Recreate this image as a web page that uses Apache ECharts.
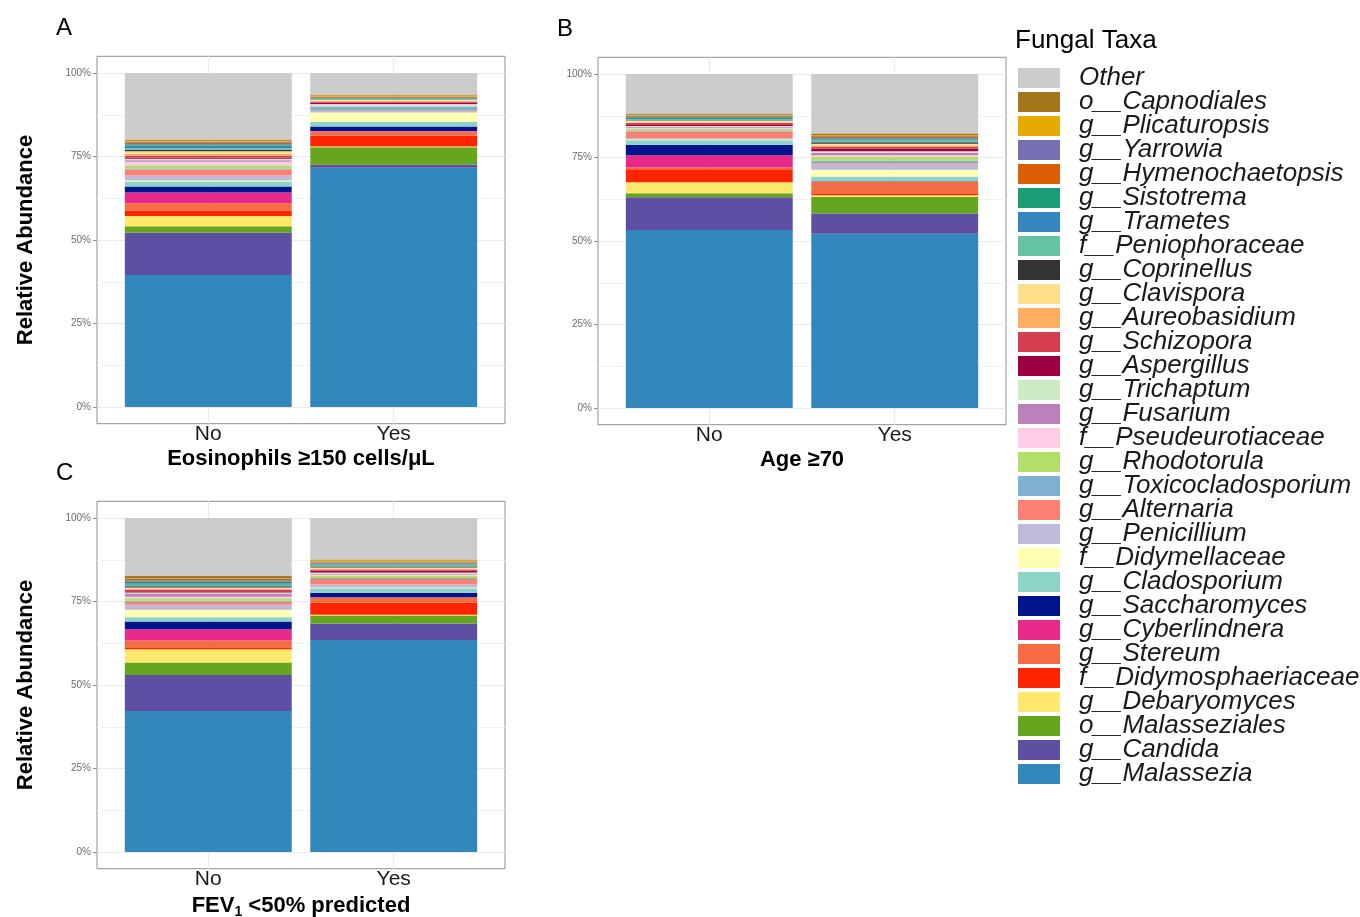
<!DOCTYPE html>
<html><head><meta charset="utf-8">
<script src="https://cdn.jsdelivr.net/npm/echarts@6/dist/echarts.min.js"></script>
<style>html,body{margin:0;padding:0;background:#fff}#c{width:1360px;height:917px}</style>
</head><body><div id="c"></div>
<script>
// stacking order: bottom -> top
const taxa = ['g__Malassezia','g__Candida','o__Malasseziales','g__Debaryomyces','f__Didymosphaeriaceae','g__Stereum','g__Cyberlindnera','g__Saccharomyces','g__Cladosporium','f__Didymellaceae','g__Penicillium','g__Alternaria','g__Toxicocladosporium','g__Rhodotorula','f__Pseudeurotiaceae','g__Fusarium','g__Trichaptum','g__Aspergillus','g__Schizopora','g__Aureobasidium','g__Clavispora','g__Coprinellus','f__Peniophoraceae','g__Trametes','g__Sistotrema','g__Hymenochaetopsis','g__Yarrowia','g__Plicaturopsis','o__Capnodiales','Other'];
const taxaColors = ['#3288BD','#5E4FA2','#66A61E','#FFE86B','#FF2400','#F46D43','#E7298A','#00148C','#8DD3C7','#FFFFB3','#BEBADA','#FB8072','#80B1D3','#B3DE69','#FCCDE5','#BC80BD','#CCEBC5','#9E0142','#D53E4F','#FDAE61','#FEE08B','#333333','#66C2A5','#3687BF','#1B9E77','#D95F02','#7570B3','#E6AB02','#A6761D','#CCCCCC'];
const groups = ['No','Yes'];
// relative abundance (%) per taxon, same order as taxa
const eosNo  = [39.5,12.7,1.9,3.1,1.6,2.2,3.2,1.8,1.5,0.3,1.5,1.8,0.3,1.0,1.0,0.5,0.4,0.4,0.6,0.5,0.8,0.4,0.4,0.9,0.4,0.4,0.3,0.3,0.4,19.9];
const eosYes = [71.6,0.9,5.3,0.2,3.2,1.3,0.1,1.4,1.4,2.8,0.3,0.2,1.3,0.2,0.2,0.2,0.1,0.4,0.4,0.2,0.2,0.1,0.2,0.2,0.2,0.2,0.2,0.3,0.3,6.4];
const ageNo  = [53.3,9.8,1.2,3.3,3.9,0.5,3.7,3.1,1.4,0.2,0.4,2.0,0.3,0.4,0.4,0.3,0.2,0.3,0.6,0.2,0.4,0.2,0.4,0.4,0.3,0.2,0.2,0.2,0.4,11.8];
const ageYes = [52.2,6.0,5.0,0.5,0.4,3.6,0.1,0.1,1.4,2.0,1.6,0.4,0.7,1.2,0.5,0.7,0.5,0.8,0.6,0.4,0.4,0.5,0.5,0.4,0.3,0.4,0.2,0.3,0.5,17.8];
const fevNo  = [42.2,10.8,3.7,4.0,0.4,2.2,3.4,2.3,1.3,2.2,1.5,0.9,0.3,0.8,0.4,1.0,0.3,0.4,0.5,0.3,0.3,0.4,0.4,0.5,0.4,0.3,0.5,0.3,0.6,17.4];
const fevYes = [63.5,4.9,2.4,0.2,3.6,1.6,0.1,1.3,1.4,0.2,1.0,1.5,0.3,0.8,0.3,0.3,0.3,0.5,0.4,0.3,0.3,0.3,0.3,0.3,0.3,0.3,0.2,0.4,0.3,12.4];
const yTickStep = 25;

const FONT = '"Liberation Sans", Arial, Helvetica, sans-serif';
const W = 408, H100 = 334, PAD = H100 * 0.05, UNIT = W / 2.2;
const panels = [
  {label:'A', left:97,  top:56.3,  xName:'Eosinophils ≥150 cells/μL', yName:'Relative Abundance', no:eosNo, yes:eosYes, gap:24},
  {label:'B', left:598, top:57.3,  xName:'Age ≥70', yName:'', no:ageNo, yes:ageYes, gap:24},
  {label:'C', left:97,  top:501.3, xName:'{a|FEV}{s|1}{a| <50% predicted}', yName:'Relative Abundance', no:fevNo, yes:fevYes, gap:24}
];

const grid = [], xAxis = [], yAxis = [], series = [];
const gridBase = {containLabel:false, outerBoundsMode:'none'};
panels.forEach((p, i) => {
  const g0 = 3*i, g1 = 3*i+1, g2 = 3*i+2;
  grid.push(Object.assign({left:p.left, top:p.top, width:W, height:H100*1.1, show:true, borderColor:'#8f8f8f', borderWidth:1, backgroundColor:'transparent'}, gridBase));
  grid.push(Object.assign({left:p.left, top:p.top+PAD, width:W, height:H100}, gridBase));
  grid.push(Object.assign({left:p.left+0.1*UNIT, top:p.top+PAD, width:2*UNIT, height:H100}, gridBase));
  xAxis.push({gridIndex:g0, type:'value', min:0.4, max:2.6, show:false});
  yAxis.push({gridIndex:g0, type:'value', min:-5, max:105, show:false});
  xAxis.push({gridIndex:g1, type:'value', min:0, max:1, show:false});
  yAxis.push({gridIndex:g1, type:'value', min:0, max:100, interval:yTickStep,
    axisLine:{show:false},
    axisTick:{show:true, length:4, lineStyle:{color:'#8f8f8f'}},
    axisLabel:{formatter:'{value}%', fontSize:10, color:'#6b6b6b', margin:6, fontFamily:FONT},
    splitLine:{show:true, lineStyle:{color:'#ebebeb', width:1.2}},
    minorTick:{show:false, splitNumber:2},
    minorSplitLine:{show:true, lineStyle:{color:'#f1f1f1', width:1}},
    name:p.yName, nameLocation:'middle', nameGap:60,
    nameTextStyle:{fontSize:22, fontWeight:'bold', color:'#000', fontFamily:FONT}
  });
  const nameStyle = {fontSize:22, fontWeight:'bold', color:'#000', fontFamily:FONT,
    rich:{a:{fontSize:22, fontWeight:'bold', color:'#000', fontFamily:FONT, lineHeight:26},
          s:{fontSize:14, fontWeight:'bold', color:'#000', fontFamily:FONT, lineHeight:10, verticalAlign:'bottom'}}};
  xAxis.push({gridIndex:g2, type:'category', data:groups, offset:PAD,
    axisLine:{show:false},
    axisTick:{show:true, alignWithLabel:true, length:4, lineStyle:{color:'#8f8f8f'}},
    axisLabel:{fontSize:21, color:'#1a1a1a', margin:0, fontFamily:FONT},
    name:p.xName, nameLocation:'middle', nameGap:p.gap, nameTextStyle:nameStyle
  });
  yAxis.push({gridIndex:g2, type:'value', min:0, max:100, show:false});
  series.push({type:'line', name:'_grid'+i, xAxisIndex:g0, yAxisIndex:g0, data:[], z:1, silent:true,
    markLine:{silent:true, symbol:'none', label:{show:false}, animation:false, z:1,
      lineStyle:{color:'#ebebeb', type:'solid', width:1.2},
      data: groups.map((g, k) => ({xAxis:k+1}))}});
  taxa.forEach((t, k) => {
    series.push({type:'bar', name:t, xAxisIndex:g2, yAxisIndex:g2, stack:'s'+i, barWidth:'90%',
      data:[p.no[k], p.yes[k]], itemStyle:{color:taxaColors[k]}, emphasis:{disabled:true}, z:10, animation:false});
  });
});

const titles = panels.map(p => ({text:p.label, left:p.left-41, top:p.top-40, padding:0,
  textStyle:{fontSize:24, fontWeight:'normal', color:'#000', fontFamily:FONT}}));
titles.push({text:'Fungal Taxa', left:1015, top:28, padding:0, textStyle:{fontSize:26, fontWeight:'normal', color:'#000', fontFamily:FONT}});

const chart = echarts.init(document.getElementById('c'), null, {renderer:'canvas'});
chart.setOption({
  animation:false,
  backgroundColor:'#fff',
  title:titles,
  legend:{data:taxa.slice().reverse(), orient:'vertical', left:1018, top:65, itemWidth:42, itemHeight:20, itemGap:-2,
    icon:'rect', selectedMode:false, padding:0,
    formatter:'{t|{name}}',
    textStyle:{fontSize:26, fontStyle:'italic', color:'#1a1a1a', fontFamily:FONT,
      rich:{t:{fontSize:26, fontStyle:'italic', color:'#1a1a1a', fontFamily:FONT, lineHeight:24, padding:[0,0,0,14]}}}},
  grid, xAxis, yAxis, series
});
</script></body></html>
